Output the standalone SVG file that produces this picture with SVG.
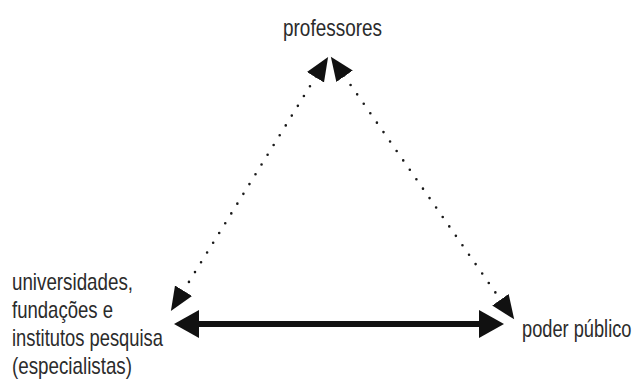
<svg xmlns="http://www.w3.org/2000/svg" width="639" height="391" viewBox="0 0 639 391">
<style>
  .lbl { font-family: "Liberation Sans Narrow", "Liberation Sans", Arial, sans-serif; font-size: 24px; fill: #2b2b2b; }
  .dots { fill: none; stroke: #1a1a1a; stroke-width: 2.6; stroke-linecap: round; stroke-dasharray: 0 11.5; marker-start: url(#dhead); marker-end: url(#dhead); }
  .thick { fill: none; stroke: #111; stroke-width: 6; marker-start: url(#bhead); marker-end: url(#bhead); }
</style>
<defs>
  <marker id="bhead" markerUnits="userSpaceOnUse" orient="auto-start-reverse" markerWidth="26" markerHeight="30" refX="2" refY="15" viewBox="0 0 26 30">
    <path d="M0,1 L25,15 L0,29 Z" fill="#111"/>
  </marker>
  <marker id="dhead" markerUnits="userSpaceOnUse" orient="auto-start-reverse" markerWidth="25" markerHeight="22" refX="1" refY="11" viewBox="0 0 25 22">
    <path d="M0,1 L24,11 L0,21 Z" fill="#111"/>
  </marker>
</defs>
<rect width="639" height="391" fill="#fff"/>
<g id="connectors">
  <path class="dots" d="M316,76.5 L183,291.5"/>
  <path class="dots" d="M344,75.5 L501,300.5"/>
  <path class="thick" d="M197,324 L481,324"/>
</g>
<g id="node-professores">
  <text class="lbl" x="283" y="36" textLength="99" lengthAdjust="spacingAndGlyphs">professores</text>
</g>
<g id="node-universidades">
  <text class="lbl" x="12" y="290" textLength="121" lengthAdjust="spacingAndGlyphs">universidades,</text>
  <text class="lbl" x="12" y="318" textLength="101" lengthAdjust="spacingAndGlyphs">fundações e</text>
  <text class="lbl" x="12" y="346" textLength="151" lengthAdjust="spacingAndGlyphs">institutos pesquisa</text>
  <text class="lbl" x="12" y="374" textLength="120" lengthAdjust="spacingAndGlyphs">(especialistas)</text>
</g>
<g id="node-poder">
  <text class="lbl" transform="translate(522,337) scale(0.76,1)" x="0" y="0">poder público</text>
</g>
</svg>
